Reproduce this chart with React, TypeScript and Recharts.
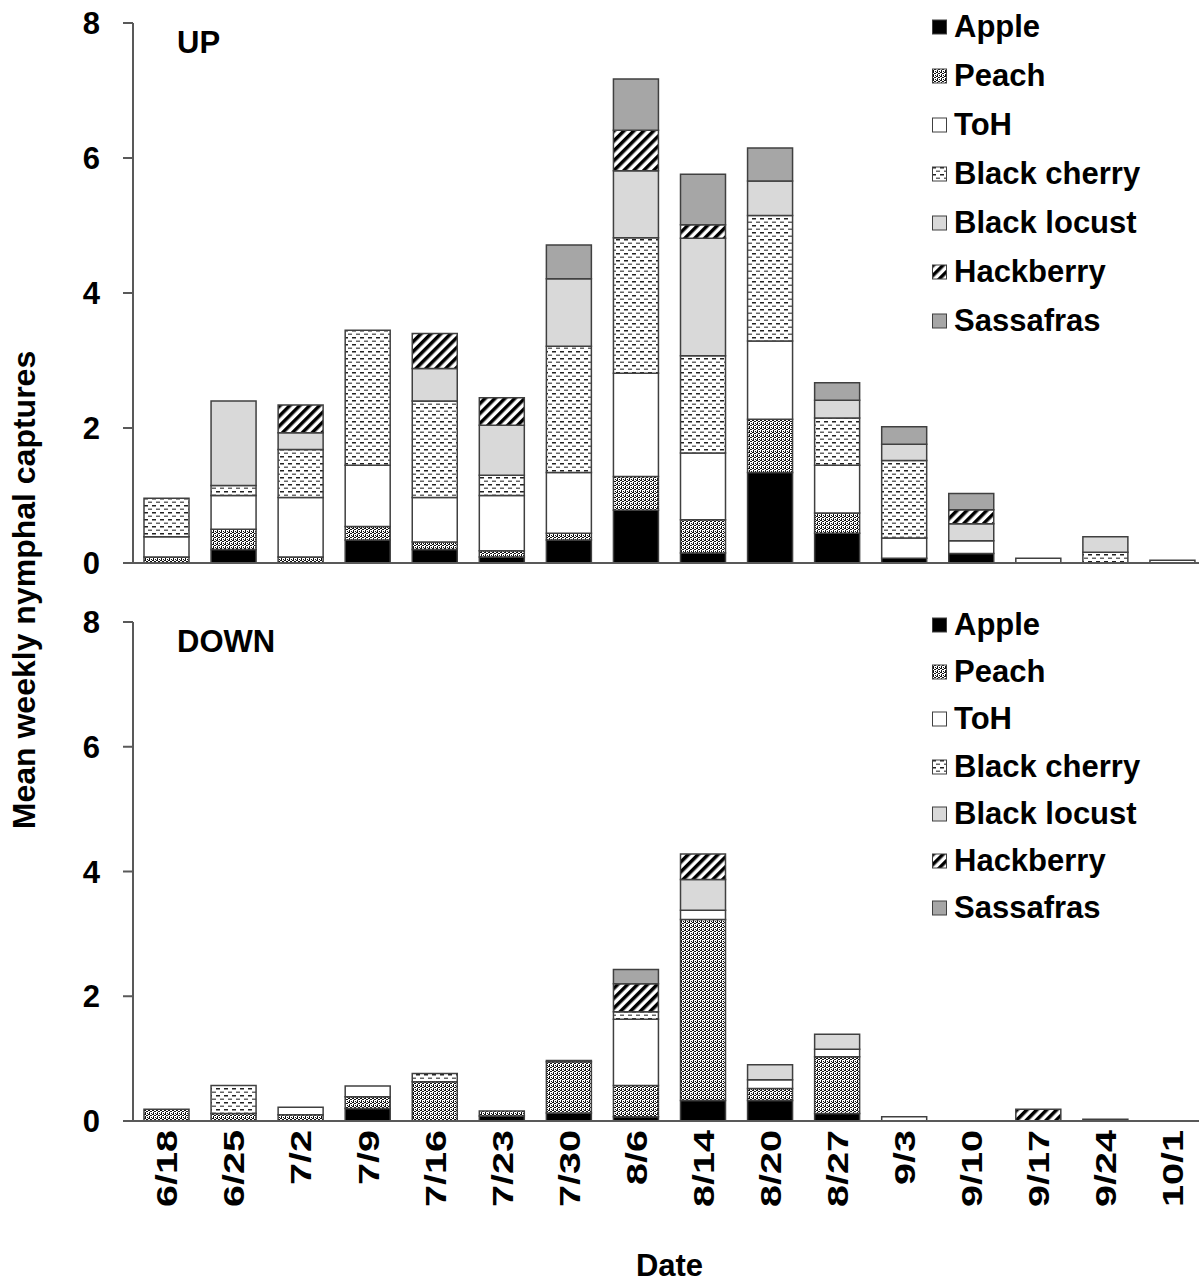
import { FC } from 'react';
import { BarChart, Bar, XAxis, YAxis } from 'recharts';

// sampling dates (shared by both panels)
const dates = ['6/18', '6/25', '7/2', '7/9', '7/16', '7/23', '7/30', '8/6', '8/14', '8/20', '8/27', '9/3', '9/10', '9/17', '9/24', '10/1'];

const hosts = ['Apple', 'Peach', 'ToH', 'Black cherry', 'Black locust', 'Hackberry', 'Sassafras'];
const hostFills = ['#000000', 'url(#pPeach)', '#ffffff', 'url(#pCherry)', '#d9d9d9', 'url(#pHack)', '#a6a6a6'];

const yTicks = [0, 2, 4, 6, 8];

// UP panel
const upApple = [0, 0.2, 0, 0.34, 0.2, 0.09, 0.34, 0.78, 0.15, 1.34, 0.44, 0.07, 0.14, 0, 0, 0];
const upPeach = [0.09, 0.3, 0.09, 0.2, 0.11, 0.09, 0.1, 0.5, 0.49, 0.79, 0.3, 0, 0, 0, 0, 0];
const upToH = [0.3, 0.5, 0.88, 0.91, 0.66, 0.82, 0.9, 1.53, 0.99, 1.16, 0.71, 0.3, 0.19, 0.07, 0, 0.04];
const upCherry = [0.57, 0.15, 0.71, 2.0, 1.43, 0.3, 1.87, 2.01, 1.44, 1.86, 0.7, 1.15, 0, 0, 0.16, 0];
const upLocust = [0, 1.25, 0.25, 0, 0.48, 0.74, 1.0, 0.99, 1.74, 0.51, 0.26, 0.24, 0.25, 0, 0.23, 0];
const upHack = [0, 0, 0.41, 0, 0.52, 0.41, 0, 0.6, 0.2, 0, 0, 0, 0.21, 0, 0, 0];
const upSass = [0, 0, 0, 0, 0, 0, 0.5, 0.76, 0.75, 0.49, 0.26, 0.26, 0.24, 0, 0, 0];

// DOWN panel
const downApple = [0, 0, 0, 0.2, 0, 0.08, 0.13, 0.07, 0.33, 0.33, 0.12, 0, 0, 0, 0, 0];
const downPeach = [0.19, 0.12, 0.1, 0.19, 0.63, 0.08, 0.82, 0.5, 2.9, 0.19, 0.91, 0, 0, 0, 0, 0];
const downToH = [0, 0, 0.12, 0.17, 0, 0, 0.02, 1.06, 0.15, 0.14, 0.12, 0.07, 0, 0, 0.03, 0];
const downCherry = [0, 0.45, 0, 0, 0.13, 0, 0, 0.12, 0, 0, 0, 0, 0, 0, 0, 0];
const downLocust = [0, 0, 0, 0, 0, 0, 0, 0, 0.49, 0.24, 0.24, 0, 0, 0, 0, 0];
const downHack = [0, 0, 0, 0, 0, 0, 0, 0.45, 0.41, 0, 0, 0, 0, 0.19, 0, 0];
const downSass = [0, 0, 0, 0, 0, 0, 0, 0.23, 0, 0, 0, 0, 0, 0, 0, 0];

const buildRows = (cols: number[][]) =>
    dates.map((d, i) => {
        const row: Record<string, string | number> = { date: d };
        hosts.forEach((h, k) => { row[h] = cols[k][i]; });
        return row;
    });

const upData = buildRows([upApple, upPeach, upToH, upCherry, upLocust, upHack, upSass]);
const downData = buildRows([downApple, downPeach, downToH, downCherry, downLocust, downHack, downSass]);

const FONT = '"Liberation Sans", Arial, sans-serif';
const AXIS = '#595959';

const Patterns: FC = () => (
    <svg width={0} height={0} style={{ position: 'absolute' }}>
        <defs>
            <pattern id="pPeach" width={4} height={4} patternUnits="userSpaceOnUse">
                <rect width={4} height={4} fill="#fff" />
                <rect x={0} y={0} width={2} height={1} fill="#111" />
                <rect x={2} y={1} width={2} height={1} fill="#111" />
                <rect x={1} y={2} width={1} height={2} fill="#111" />
                <rect x={3} y={3} width={1} height={1} fill="#111" />
            </pattern>
            <pattern id="pCherry" width={8} height={7} patternUnits="userSpaceOnUse">
                <rect width={8} height={7} fill="#fff" />
                <rect x={0} y={1} width={4} height={1.5} fill="#222" />
                <rect x={4} y={4.5} width={4} height={1.5} fill="#666" />
            </pattern>
            <pattern id="pHack" width={7} height={7} patternUnits="userSpaceOnUse" patternTransform="rotate(45)">
                <rect width={7} height={7} fill="#fff" />
                <rect width={3.5} height={7} fill="#000" />
            </pattern>
        </defs>
    </svg>
);

// rotated date label, stretched along its length like the original
const DateTick: FC<any> = ({ x, y, payload }) => (
    <g transform={`translate(${x}, ${y}) rotate(-90) scale(1.32, 1)`}>
        <text
            x={0}
            y={0}
            dy="0.36em"
            textAnchor="end"
            fill="#000"
            fontSize={30}
            fontWeight="bold"
            fontFamily={FONT}
        >
            {payload.value}
        </text>
    </g>
);

interface LegendProps {
    top: number;
    step: number;
}

const HostLegend: FC<LegendProps> = ({ top, step }) => (
    <div style={{ position: 'absolute', left: 932, top: 0 }}>
        {hosts.map((h, i) => (
            <div
                key={h}
                style={{
                    position: 'absolute',
                    top: top + i * step - 20,
                    height: 40,
                    display: 'flex',
                    alignItems: 'center',
                    whiteSpace: 'nowrap',
                    fontFamily: FONT,
                    fontWeight: 'bold',
                    fontSize: 31,
                }}
            >
                <svg width={15} height={16} style={{ marginRight: 7 }}>
                    <rect x={0.5} y={1} width={14} height={14} fill={hostFills[i]} stroke="#404040" strokeWidth={1} />
                </svg>
                {h}
            </div>
        ))}
    </div>
);

interface PanelProps {
    data: Record<string, string | number>[];
    title: string;
    height: number;
    marginTop: number;
    xHeight: number;
    showDates: boolean;
    legendTop: number;
    legendStep: number;
}

const Panel: FC<PanelProps> = ({ data, title, height, marginTop, xHeight, showDates, legendTop, legendStep }) => (
    <div style={{ position: 'relative', width: 1199, height, overflow: 'hidden' }}>
        <BarChart
            width={1210}
            height={height}
            data={data}
            margin={{ top: marginTop, right: 4, left: 8, bottom: 0 }}
            barSize={45}
        >
            <XAxis
                dataKey="date"
                height={xHeight}
                axisLine={{ stroke: AXIS, strokeWidth: 2 }}
                tickLine={false}
                tickSize={0}
                tickMargin={9}
                interval={0}
                tick={showDates ? <DateTick /> : false}
                label={showDates ? {
                    value: 'Date',
                    position: 'insideBottom',
                    offset: 6,
                    style: { fill: '#000', fontSize: 31, fontWeight: 'bold', fontFamily: FONT },
                } : undefined}
            />
            <YAxis
                width={125}
                domain={[0, 8]}
                ticks={yTicks}
                axisLine={{ stroke: AXIS, strokeWidth: 2 }}
                tickLine={{ stroke: AXIS, strokeWidth: 2 }}
                tickSize={10}
                tickMargin={23}
                tick={{ fill: '#000', fontSize: 31, fontWeight: 'bold', fontFamily: FONT }}
            />
            {hosts.map((h, i) => (
                <Bar
                    key={h}
                    dataKey={h}
                    stackId="a"
                    fill={hostFills[i]}
                    stroke="#404040"
                    strokeWidth={1.5}
                    isAnimationActive={false}
                />
            ))}
        </BarChart>
        <div
            style={{
                position: 'absolute',
                left: 177,
                top: marginTop + 2,
                fontFamily: FONT,
                fontWeight: 'bold',
                fontSize: 31,
            }}
        >
            {title}
        </div>
        <HostLegend top={legendTop} step={legendStep} />
    </div>
);

export default function App() {
    return (
        <div style={{ position: 'absolute', left: 0, top: 0, width: 1199, height: 1282, overflow: 'hidden', background: '#fff' }}>
            <Patterns />
            {/* UP: plot from y=23 to y=563 */}
            <Panel data={upData} title="UP" height={590} marginTop={23} xHeight={27} showDates={false} legendTop={27} legendStep={49} />
            {/* DOWN: plot from y=622 to y=1121 */}
            <Panel data={downData} title="DOWN" height={692} marginTop={32} xHeight={161} showDates legendTop={35} legendStep={47.2} />
            <svg width={60} height={1282} style={{ position: 'absolute', left: 0, top: 0 }}>
                <text
                    x={23}
                    y={590}
                    dy="0.36em"
                    transform="rotate(-90, 23, 590)"
                    textAnchor="middle"
                    fill="#000"
                    fontSize={32}
                    fontWeight="bold"
                    fontFamily={FONT}
                >
                    Mean weekly nymphal captures
                </text>
            </svg>
        </div>
    );
}
